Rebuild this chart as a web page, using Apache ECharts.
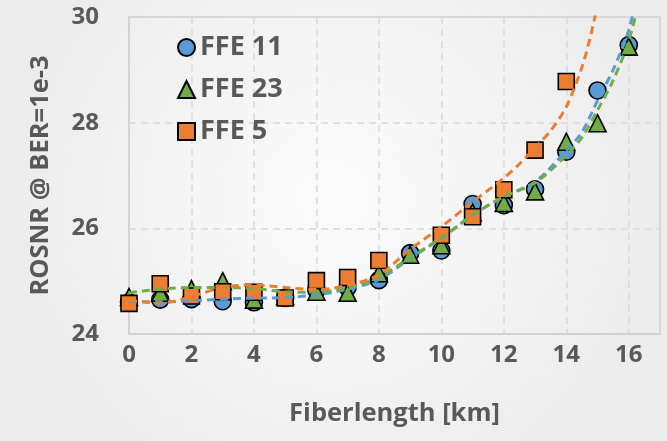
<!DOCTYPE html>
<html>
<head>
<meta charset="utf-8">
<script src="https://cdn.jsdelivr.net/npm/echarts@6/dist/echarts.min.js"></script>
<style>
html,body{margin:0;padding:0;}
#c{width:667px;height:441px;}
</style>
</head>
<body>
<div id="c"></div>
<script>
// ---- data ----
var km = [0,1,2,3,4,5,6,7,8,9,10,11,12,13,14,15,16];
var ffe11 = [24.60,24.65,24.66,24.62,24.60,24.68,24.83,24.88,25.02,25.53,25.58,26.46,26.44,26.74,27.45,28.61,29.47];
var ffe23 = [24.70,24.78,24.85,25.00,24.65,24.72,24.80,24.78,25.15,25.50,25.68,26.30,26.48,26.70,27.64,27.99,29.44];
var ffe5  = [24.58,24.95,24.72,24.80,24.79,24.68,25.01,25.07,25.39,null,25.87,26.22,26.73,27.48,28.78,null,null];

// dashed trend lines
var trendKm11 = [0,1,2,3,4,5,6,7,8,9,10,11,12,13,14,14.5,15,15.5,16,16.5];
var trend11   = [24.61,24.61,24.63,24.66,24.68,24.69,24.74,24.85,25.03,25.43,25.81,26.25,26.60,26.88,27.47,27.82,28.42,29.0,29.75,31.0];
var trendKm23 = [0,1,2,3,4,5,6,7,8,9,10,11,12,13,14,14.5,15,15.5,16,16.5];
var trend23   = [24.78,24.85,24.88,24.88,24.86,24.80,24.79,24.88,25.07,25.45,25.82,26.25,26.60,26.86,27.38,27.72,28.24,28.8,29.55,30.7];
var trendKm5  = [0,1,2,3,4,5,6,7,8,9,10,11,12,12.5,13,13.5,14,14.5,14.8,15.1];
var trend5    = [24.64,24.58,24.71,24.88,24.93,24.88,24.84,24.92,25.12,25.60,26.03,26.50,26.95,27.22,27.53,27.85,28.30,29.05,29.70,30.5];

var xTicks = [0,2,4,6,8,10,12,14,16];
var yTicks = [24,26,28,30];

var names = ['FFE 11','FFE 23','FFE 5'];
var colors = ['#5b9bd5','#70ad47','#ed7d31'];
var symbols = ['circle','triangle','rect'];

function pairs(xs, ys){ var o=[]; for(var i=0;i<xs.length;i++){ if(ys[i]!==null) o.push([xs[i],ys[i]]);} return o; }

var font = '"Open Sans", sans-serif';
var chart = echarts.init(document.getElementById('c'), null, {renderer:'canvas'});

var scatterData = [ffe11, ffe23, ffe5];
var trendData = [pairs(trendKm11,trend11), pairs(trendKm23,trend23), pairs(trendKm5,trend5)];

var series = [];
for (var i=0;i<3;i++){
  series.push({
    name: names[i], type:'scatter', symbol: symbols[i],
    symbolSize: symbols[i]==='rect'?16:17,
    data: pairs(km, scatterData[i]),
    itemStyle:{color:colors[i], borderColor:'#000', borderWidth:1.6, opacity:1},
    z: 2+i
  });
}
for (var j=0;j<3;j++){
  series.push({
    name: 'trend'+j, type:'line', data: trendData[j], smooth:0.3, showSymbol:false, symbol:'none',
    clip:true,
    lineStyle:{color:colors[j], width:3, type:[8,5]},
    z: 6+j, silent:true
  });
}

chart.setOption({
  backgroundColor: {
    type:'radial', x:0.5, y:0.45, r:0.75,
    colorStops:[{offset:0,color:'#fbfbfb'},{offset:1,color:'#ececec'}]
  },
  animation:false,
  grid:{left:129, top:17, right:7, bottom:107, show:true, borderColor:'#d0d0d0', borderWidth:1.5, backgroundColor:'transparent'},
  legend:{
    data: names.map(function(n,i){return {name:n, icon:symbols[i]};}),
    orient:'vertical', left:172, top:29, itemWidth:17, itemHeight:17, itemGap:15,
    textStyle:{fontFamily:font, fontWeight:'bold', fontSize:27, color:'#595959'},
    selectedMode:false
  },
  xAxis:{
    type:'value', min:0, max:17, interval:2,
    name:'Fiberlength [km]', nameLocation:'middle', nameGap:67,
    nameTextStyle:{fontFamily:font, fontWeight:'bold', fontSize:25.5, color:'#595959'},
    axisLine:{show:true, lineStyle:{color:'#d0d0d0', width:1.5}},
    axisTick:{show:false},
    axisLabel:{margin:9, fontFamily:font, fontWeight:'bold', fontSize:24, color:'#595959',
      showMaxLabel:false,
      formatter:function(v){ return xTicks.indexOf(v)>=0 ? String(v) : ''; }},
    splitLine:{show:true, lineStyle:{color:'#d9d9d9', width:1.5, type:[7,5]}}
  },
  yAxis:{
    type:'value', min:24, max:30, interval:2,
    name:'ROSNR @ BER=1e-3', nameLocation:'middle', nameGap:75, nameRotate:90,
    nameTextStyle:{fontFamily:font, fontWeight:'bold', fontSize:25.5, color:'#595959'},
    axisLine:{show:true, lineStyle:{color:'#d0d0d0', width:1.5}},
    axisTick:{show:false},
    axisLabel:{margin:30, fontFamily:font, fontWeight:'bold', fontSize:24, color:'#595959',
      formatter:function(v){ return yTicks.indexOf(v)>=0 ? String(v) : ''; }},
    splitLine:{show:true, lineStyle:{color:'#d9d9d9', width:1.5, type:[7,5]}}
  },
  series: series
});
</script>
</body>
</html>
